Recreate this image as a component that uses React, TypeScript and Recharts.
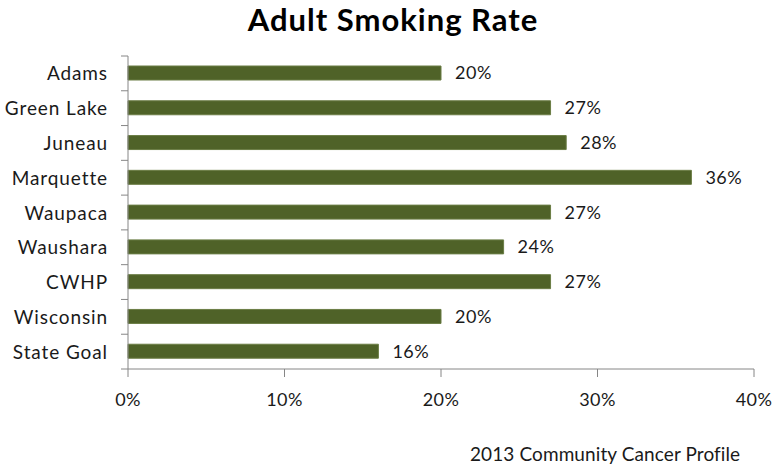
import { Bar, BarChart, LabelList, XAxis, YAxis } from "recharts";

const counties = ["Adams", "Green Lake", "Juneau", "Marquette", "Waupaca", "Waushara", "CWHP", "Wisconsin", "State Goal"];
const smokingRate = [20, 27, 28, 36, 27, 24, 27, 20, 16];
const xTicks = [0, 10, 20, 30, 40];

const data = counties.map((name, i) => ({ name, rate: smokingRate[i] }));

const font = "Lato, 'Open Sans', sans-serif";
const axisColor = "#868686";
const textColor = "#1a1a1a";
const band = 313 / counties.length;
const axisX = 128;

function CountyTick(props: any) {
  const { y, payload, index } = props;
  const last = index === counties.length - 1;
  return (
    <g>
      <line x1={axisX - 7} x2={axisX} y1={y - band / 2} y2={y - band / 2} stroke={axisColor} />
      {last && <line x1={axisX - 7} x2={axisX} y1={y + band / 2} y2={y + band / 2} stroke={axisColor} />}
      <text
        x={axisX - 20}
        y={y}
        dy={7}
        textAnchor="end"
        fontSize={19}
        letterSpacing={0.9}
        fill={textColor}
        fontFamily={font}
      >
        {payload.value}
      </text>
    </g>
  );
}

export default function App() {
  return (
    <div style={{ position: "absolute", left: 0, top: 0, width: 776, height: 465, background: "#fff", fontFamily: font }}>
      <div
        style={{
          position: "absolute",
          left: 0,
          width: 786,
          top: 1,
          lineHeight: "36px",
          textAlign: "center",
          fontSize: 31,
          fontWeight: 700,
          letterSpacing: 1,
          color: "#000",
        }}
      >
        Adult Smoking Rate
      </div>
      <BarChart
        width={776}
        height={465}
        data={data}
        layout="vertical"
        margin={{ top: 56, right: 22, bottom: 66, left: 0 }}
        barSize={14}
      >
        <XAxis
          type="number"
          domain={[0, 40]}
          ticks={xTicks}
          tickFormatter={(v) => `${v}%`}
          stroke={axisColor}
          tickSize={8}
          height={30}
          tick={{ fontSize: 18, fill: textColor, fontFamily: font, dy: 14, letterSpacing: 0.4 }}
        />
        <YAxis
          type="category"
          dataKey="name"
          width={128}
          stroke={axisColor}
          tickLine={false}
          tick={<CountyTick />}
        />
        <Bar dataKey="rate" fill="#4f6228" stroke="#6b7d45" strokeWidth={1} isAnimationActive={false}>
          <LabelList
            dataKey="rate"
            position="right"
            offset={14}
            formatter={(v: any) => `${v}%`}
            style={{ fontSize: 18, fill: textColor, fontFamily: font, letterSpacing: 0.5 }}
          />
        </Bar>
      </BarChart>
      <div style={{ position: "absolute", left: 470, top: 442, fontSize: 19, letterSpacing: 0.1, color: textColor }}>
        2013 Community Cancer Profile
      </div>
    </div>
  );
}
